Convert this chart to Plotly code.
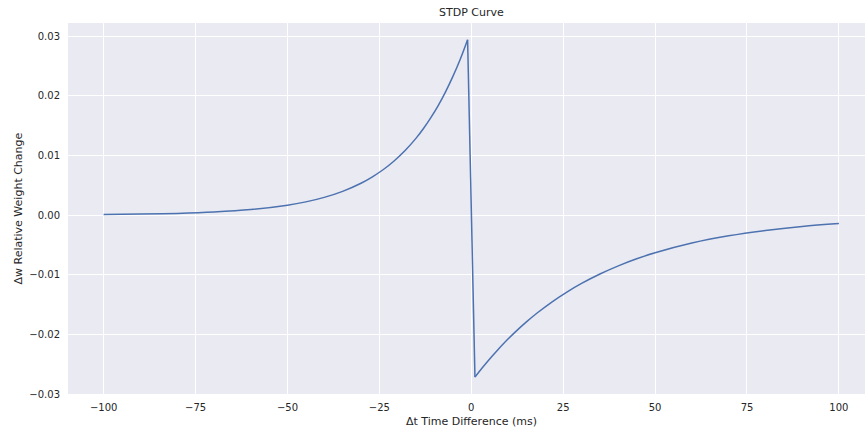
import plotly.graph_objects as go

# Δt (ms) and Δw values
dt_ms = [-100, -90, -80, -70, -60, -50, -45, -40, -35, -30, -27, -24, -21, -18,
         -15, -13, -11, -9, -7, -5, -3, -1,
         1, 3, 5, 7, 9, 12, 15, 18, 22, 26, 30, 35, 40, 45, 50, 60, 70, 80, 90, 100]
dw = [0.000087, 0.000157, 0.000282, 0.000508, 0.000914, 0.001647, 0.00221, 0.002966,
      0.003979, 0.005339, 0.006372, 0.007599, 0.009070, 0.010816,
      0.012897, 0.014512, 0.016329, 0.018357, 0.020656, 0.023244, 0.026128, 0.0294,
      -0.02717, -0.02560, -0.02412, -0.02273, -0.02141, -0.01958, -0.01791, -0.01638,
      -0.01454, -0.01291, -0.01146, -0.00988, -0.00851, -0.00733, -0.00632, -0.00469,
      -0.00348, -0.00259, -0.00192, -0.00143]

x_ticks = [-100, -75, -50, -25, 0, 25, 50, 75, 100]
y_ticks = [-0.03, -0.02, -0.01, 0.0, 0.01, 0.02, 0.03]

title_text = "STDP Curve"
x_title = "Δt Time Difference (ms)"
y_title = "Δw Relative Weight Change"

FONT = "DejaVu Sans"
TXT = "#262626"
LINE = dict(color="#4C72B0", width=1.5)

# split at the jump between pre- and post-synaptic branches
split = next(i for i, v in enumerate(dt_ms) if v > 0)

fig = go.Figure()
# smooth left branch (Δt < 0)
fig.add_trace(go.Scatter(x=dt_ms[:split], y=dw[:split], mode="lines",
                         line=dict(**LINE, shape="spline", smoothing=1),
                         showlegend=False, hoverinfo="skip"))
# straight jump across Δt = 0
fig.add_trace(go.Scatter(x=dt_ms[split - 1:split + 1], y=dw[split - 1:split + 1],
                         mode="lines", line=LINE, showlegend=False, hoverinfo="skip"))
# smooth right branch (Δt > 0)
fig.add_trace(go.Scatter(x=dt_ms[split:], y=dw[split:], mode="lines",
                         line=dict(**LINE, shape="spline", smoothing=1),
                         showlegend=False, hoverinfo="skip"))

fig.update_layout(
    width=865, height=431,
    margin=dict(l=68, r=0, t=23, b=37),
    paper_bgcolor="white", plot_bgcolor="#EAEAF2",
    font=dict(family=FONT, size=10, color=TXT),
    showlegend=False,
    annotations=[
        dict(text=title_text, xref="paper", yref="paper",
             x=(471 - 68) / 797, y=1 + 10 / 371, xanchor="center", yanchor="middle",
             showarrow=False, font=dict(family=FONT, size=11, color=TXT)),
        dict(text=x_title, xref="paper", yref="paper",
             x=(471 - 68) / 797, y=-(421.5 - 394) / 371, xanchor="center", yanchor="middle",
             showarrow=False, font=dict(family=FONT, size=11, color=TXT)),
        dict(text=y_title, xref="paper", yref="paper",
             x=-(68 - 18) / 797, y=0.5, xanchor="center", yanchor="middle",
             textangle=-90, showarrow=False, font=dict(family=FONT, size=11, color=TXT)),
    ],
)
fig.update_xaxes(range=[-109.7, 107.1], tickvals=x_ticks,
                 ticktext=[f"{v}".replace("-", "\u2212") for v in x_ticks],
                 showgrid=True, gridcolor="white", gridwidth=1,
                 zeroline=False, showline=False, ticks="outside", ticklen=4,
                 tickcolor="rgba(0,0,0,0)", tickfont=dict(size=10, color=TXT))
fig.update_yaxes(range=[-0.0300, 0.0322], tickvals=y_ticks,
                 ticktext=[f"{v:.2f}".replace("-", "\u2212") for v in y_ticks],
                 showgrid=True, gridcolor="white", gridwidth=1,
                 zeroline=False, showline=False, ticks="outside", ticklen=5,
                 tickcolor="rgba(0,0,0,0)", tickfont=dict(size=10, color=TXT))

fig.write_html("out.html")
